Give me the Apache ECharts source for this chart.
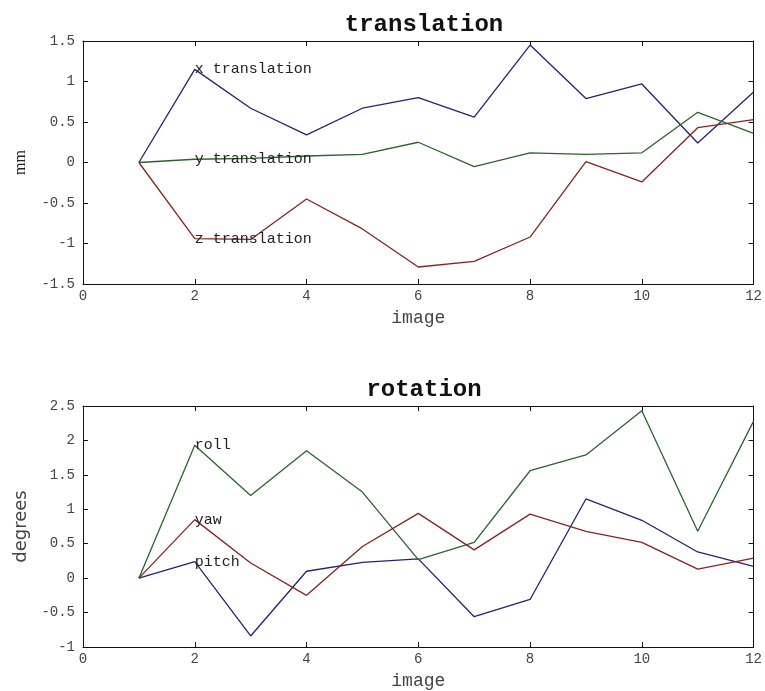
<!DOCTYPE html>
<html>
<head>
<meta charset="utf-8">
<script src="https://cdn.jsdelivr.net/npm/echarts@6/dist/echarts.min.js"></script>
<style>
  html, body { margin: 0; padding: 0; background: #ffffff; }
  #chart { width: 765px; height: 691px; }
</style>
</head>
<body>
<div id="chart"></div>
<script>
// Realignment parameters per image (x = image number)
const images = [1, 2, 3, 4, 5, 6, 7, 8, 9, 10, 11, 12];

// translation, mm
const xTranslation = [0, 1.15, 0.67, 0.34, 0.67, 0.80, 0.56, 1.45, 0.79, 0.97, 0.24, 0.87];
const yTranslation = [0, 0.04, 0.05, 0.08, 0.10, 0.25, -0.05, 0.12, 0.10, 0.12, 0.62, 0.36];
const zTranslation = [0, -0.94, -0.95, -0.45, -0.82, -1.29, -1.22, -0.92, 0.01, -0.24, 0.43, 0.53];

// rotation, degrees
const pitch = [0, 0.24, -0.84, 0.10, 0.23, 0.28, -0.56, -0.31, 1.15, 0.84, 0.38, 0.17];
const roll  = [0, 1.93, 1.20, 1.85, 1.25, 0.27, 0.52, 1.56, 1.79, 2.43, 0.68, 2.28];
const yaw   = [0, 0.85, 0.22, -0.25, 0.46, 0.94, 0.41, 0.93, 0.68, 0.52, 0.13, 0.29];

const xTicks = [0, 2, 4, 6, 8, 10, 12];
const transTicks = [-1.5, -1, -0.5, 0, 0.5, 1, 1.5];
const rotTicks = [-1, -0.5, 0, 0.5, 1, 1.5, 2, 2.5];

const BLUE = '#23236e';
const GREEN = '#2c622c';
const RED = '#882222';
const MONO = '"Liberation Mono", "DejaVu Sans Mono", monospace';

function pairs(vals, labelText) {
  return vals.map((v, i) => {
    const item = { value: [images[i], v] };
    if (i === 1) {
      item.label = {
        show: true, position: 'right', distance: 0, formatter: labelText,
        fontFamily: MONO, fontSize: 15, color: '#222'
      };
    }
    return item;
  });
}

function lineSeries(vals, color, labelText, xi, yi) {
  return {
    type: 'line', xAxisIndex: xi, yAxisIndex: yi,
    data: pairs(vals, labelText),
    symbol: 'circle', symbolSize: 0, showSymbol: true,
    lineStyle: { color: color, width: 1.3 },
    itemStyle: { color: color },
    label: { show: false },
    emphasis: { disabled: true },
    animation: false, silent: true
  };
}

const frameLine = { show: true, onZero: false, lineStyle: { color: '#111', width: 1 } };
const frameTick = { show: true, inside: true, length: 5, lineStyle: { color: '#111' } };

function bottomX(gridIndex) {
  return {
    gridIndex, type: 'value', min: xTicks[0], max: xTicks[xTicks.length - 1], interval: 2,
    position: 'bottom',
    name: 'image', nameLocation: 'middle', nameGap: 25,
    nameTextStyle: { fontFamily: MONO, fontSize: 18, color: '#444' },
    axisLine: frameLine, axisTick: frameTick,
    axisLabel: { fontFamily: MONO, fontSize: 14, color: '#444', margin: 5 },
    splitLine: { show: false }
  };
}
function topX(gridIndex) {
  return {
    gridIndex, type: 'value', min: xTicks[0], max: xTicks[xTicks.length - 1], interval: 2,
    position: 'top',
    axisLine: frameLine, axisTick: frameTick,
    axisLabel: { show: false }, splitLine: { show: false }
  };
}
function leftY(gridIndex, ticks, name, nameStyle, gap) {
  return {
    gridIndex, type: 'value', min: ticks[0], max: ticks[ticks.length - 1], interval: 0.5,
    position: 'left',
    name, nameLocation: 'middle', nameGap: gap, nameTextStyle: nameStyle,
    axisLine: frameLine, axisTick: frameTick,
    axisLabel: { fontFamily: MONO, fontSize: 14, color: '#444', margin: 8 },
    splitLine: { show: false }
  };
}
function rightY(gridIndex, ticks) {
  return {
    gridIndex, type: 'value', min: ticks[0], max: ticks[ticks.length - 1], interval: 0.5,
    position: 'right',
    axisLine: frameLine, axisTick: frameTick,
    axisLabel: { show: false }, splitLine: { show: false }
  };
}

const chart = echarts.init(document.getElementById('chart'), null, { renderer: 'canvas' });
chart.setOption({
  backgroundColor: '#ffffff',
  animation: false,
  title: [
    { text: 'translation', left: 419, top: 8, textAlign: 'center',
      textStyle: { fontFamily: MONO, fontWeight: 'bold', fontSize: 24, color: '#111' } },
    { text: 'rotation', left: 419, top: 373, textAlign: 'center',
      textStyle: { fontFamily: MONO, fontWeight: 'bold', fontSize: 24, color: '#111' } }
  ],
  grid: [
    { left: 83, right: 9, top: 41, height: 243 },
    { left: 83, right: 9, top: 406, height: 243 }
  ],
  xAxis: [bottomX(0), topX(0), bottomX(1), topX(1)],
  yAxis: [
    leftY(0, transTicks, 'mm',
      { fontFamily: '"Liberation Serif", serif', fontSize: 16, color: '#222' }, 54),
    rightY(0, transTicks),
    leftY(1, rotTicks, 'degrees',
      { fontFamily: '"DejaVu Sans", sans-serif', fontSize: 18, color: '#444' }, 50),
    rightY(1, rotTicks)
  ],
  series: [
    lineSeries(xTranslation, BLUE, 'x translation', 0, 0),
    lineSeries(yTranslation, GREEN, 'y translation', 0, 0),
    lineSeries(zTranslation, RED, 'z translation', 0, 0),
    lineSeries(pitch, BLUE, 'pitch', 2, 2),
    lineSeries(roll, GREEN, 'roll', 2, 2),
    lineSeries(yaw, RED, 'yaw', 2, 2)
  ]
});
</script>
</body>
</html>
